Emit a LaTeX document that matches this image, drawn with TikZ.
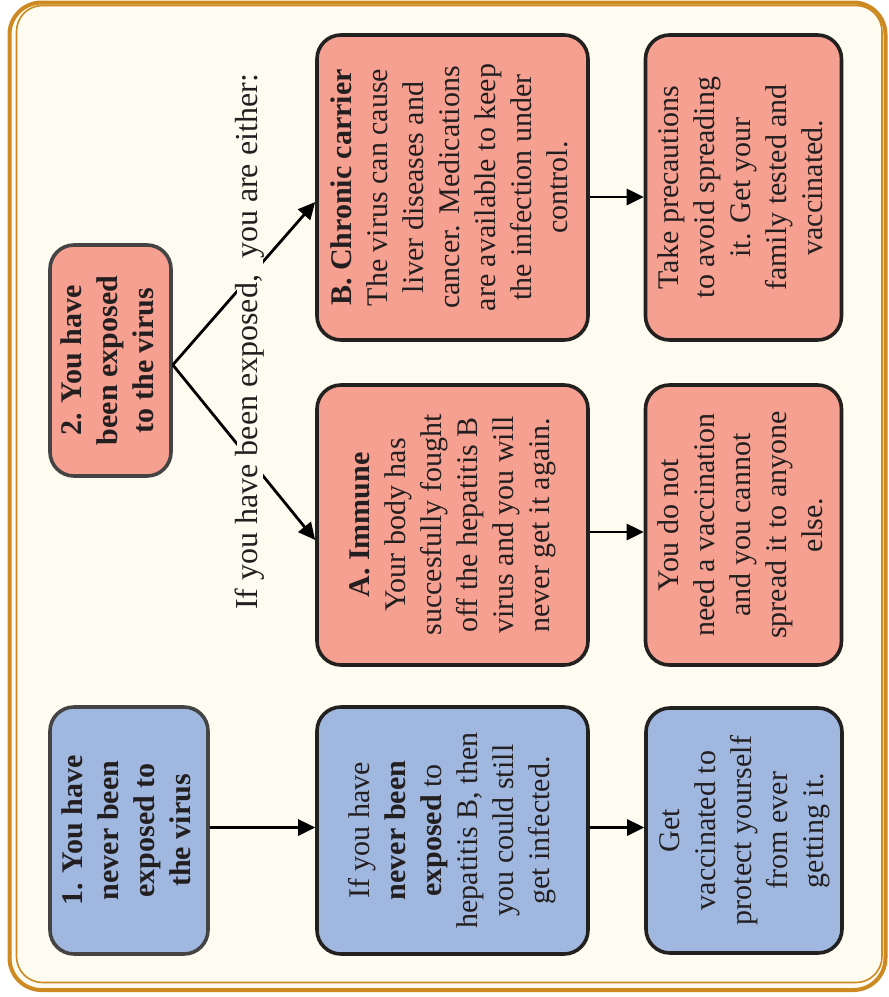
\documentclass[tikz,border=0pt]{standalone}
\usepackage{fontspec}
\setmainfont{Liberation Serif}
\usepackage{graphicx}
\usetikzlibrary{arrows.meta}
\definecolor{cream}{RGB}{254,252,240}
\definecolor{frameor}{RGB}{205,138,34}
\definecolor{pinkf}{RGB}{245,160,144}
\definecolor{bluef}{RGB}{160,183,223}
\definecolor{edgedark}{RGB}{35,32,32}
\definecolor{edgegray}{RGB}{68,68,68}
\definecolor{txt}{RGB}{35,31,32}
\newcommand{\rottext}[1]{\rotatebox{90}{\begin{tabular}{@{}c@{}}#1\end{tabular}}}
\tikzset{
  boxbase/.style={draw=edgedark, line width=1.8pt, rounded corners=12pt, inner sep=0pt,
    text=txt, font=\fontsize{15}{18}\selectfont},
  pinkbox/.style={boxbase, fill=pinkf},
  bluebox/.style={boxbase, fill=bluef},
  graybox/.style={draw=edgegray},
  arr/.style={line width=1.4pt, draw=black, -{Triangle[length=8.5pt,width=8pt]}},
}
\begin{document}
\begin{tikzpicture}[x=0.5pt,y=-0.5pt]
\useasboundingbox (0,0) rectangle (889,997);
% frame
\draw[frameor, line width=2pt, fill=cream, rounded corners=16pt] (9.5,2.5) rectangle (885.5,990);
\draw[frameor, line width=0.8pt, fill=cream, rounded corners=13pt] (16.5,5.5) rectangle (882,982.5);

% blue row
\node[bluebox, graybox, minimum width=79pt, minimum height=123.5pt] (b1) at (129,830.5)
  {\rottext{\bfseries 1. You have\\ \bfseries never been\\ \bfseries exposed to\\ \bfseries the virus}};
\node[bluebox, minimum width=135.5pt, minimum height=123.5pt] (b2) at (452.5,830.5)
  {\rottext{If you have\\ \textbf{never been}\\ \textbf{exposed} to\\ hepatitis B, then\\ you could still\\ get infected.}};
\node[bluebox, minimum width=98pt, minimum height=122.5pt] (b3) at (744,830.5)
  {\rottext{Get\\ vaccinated to\\ protect yourself\\ from ever\\ getting it.}};

% pink
\node[pinkbox, graybox, minimum width=60.5pt, minimum height=115.5pt] (p2) at (110.5,360.5)
  {\rottext{\bfseries 2. You have\\ \bfseries been exposed\\ \bfseries to the virus}};
\node[pinkbox, minimum width=135.5pt, minimum height=152.5pt] (B) at (452.5,187.5)
  {\rottext{\textbf{B. Chronic carrier}\\ The virus can cause\\ liver diseases and\\ cancer. Medications\\ are available to keep\\ the infection under\\ control.}};
\node[pinkbox, minimum width=135.5pt, minimum height=140pt] (A) at (452.5,525)
  {\rottext{\textbf{A. Immune}\\ Your body has\\ succesfully fought\\ off the hepatitis B\\ virus and you will\\ never get it again.}};
\node[pinkbox, minimum width=98pt, minimum height=152.5pt] (Bright) at (743.5,187.5)
  {\rottext{Take precautions\\ to avoid spreading\\ it. Get your\\ family tested and\\ vaccinated.}};
\node[pinkbox, minimum width=98pt, minimum height=140pt] (Aright) at (743.5,525)
  {\rottext{You do not\\ need a vaccination\\ and you cannot\\ spread it to anyone\\ else.}};

% connectors
\draw[arr] ([yshift=1.5pt]b1.east) -- ([yshift=1.5pt]b2.west);
\draw[arr] ([yshift=1.5pt]b2.east) -- ([yshift=1.5pt]b3.west);
\draw[arr] ([yshift=-4.75pt]B.east) -- ([yshift=-4.75pt]Bright.west);
\draw[arr] ([yshift=-3.5pt]A.east) -- ([yshift=-3.5pt]Aright.west);
\draw[arr] ([yshift=-2.2pt]p2.east) -- ([yshift=-7.25pt]B.west);
\draw[arr] ([yshift=-2.2pt]p2.east) -- ([yshift=-7.5pt]A.west);

% label over the lines
\node[rotate=90, fill=cream, inner sep=0pt, text height=10pt, text depth=3pt, text=txt,
  font=\fontsize{16}{19}\selectfont] (lbl) at (250,342) {If you have been exposed,\ \ you are either:};
\end{tikzpicture}
\end{document}
